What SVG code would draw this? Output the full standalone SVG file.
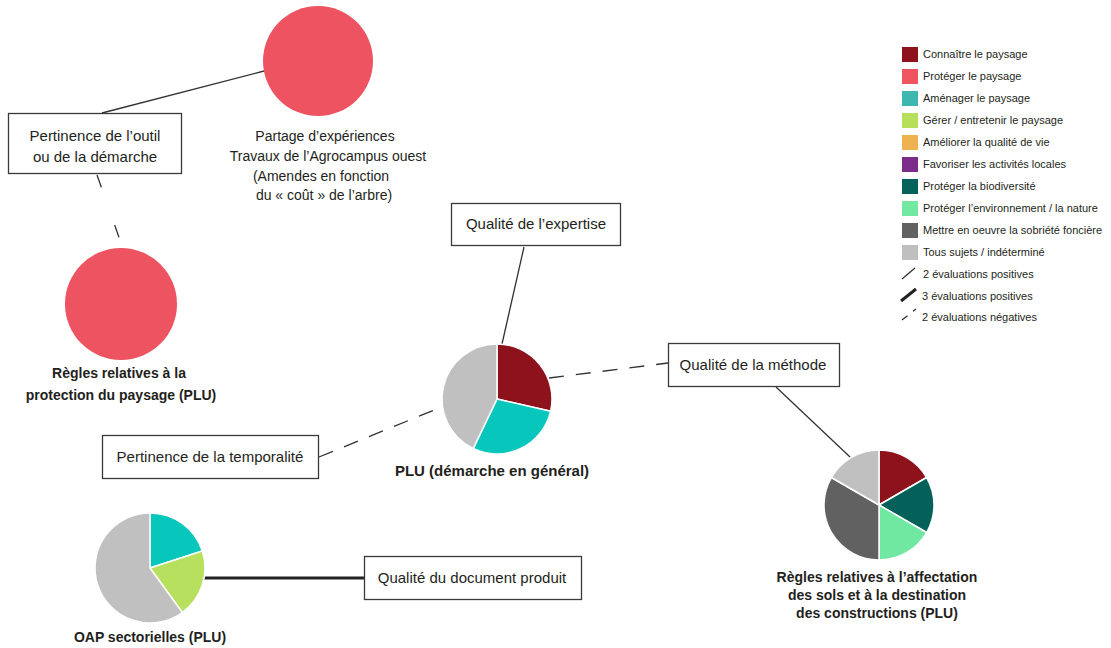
<svg xmlns="http://www.w3.org/2000/svg" width="1111" height="648" viewBox="0 0 1111 648">
<style>
text{font-family:"Liberation Sans",Arial,sans-serif;fill:#231f20}
.box rect{fill:#fff;stroke:#3a3a3a;stroke-width:1.3}
.bt{font-size:15px;text-anchor:middle}
.lb{font-size:14px;font-weight:bold;text-anchor:middle}
.ct{font-size:14px;text-anchor:middle}
.lg{font-size:11px}
.sl{stroke:#fff;stroke-width:1.5;stroke-linejoin:round}
.thin{stroke:#333;stroke-width:1.3;fill:none}
.thick{stroke:#222;stroke-width:3;fill:none}
.dash{stroke:#333;stroke-width:1.3;fill:none;stroke-dasharray:15 12}
</style>
<rect width="1111" height="648" fill="#fff"/>
<g id="connectors">
<line class="thin" x1="102" y1="113" x2="264" y2="71"/>
<line class="thin" x1="97" y1="175" x2="121" y2="243" style="stroke-dasharray:13 40"/>
<line class="thin" x1="524" y1="247" x2="502" y2="344"/>
<line class="dash" x1="549" y1="378" x2="668" y2="363"/>
<line class="thin" x1="776" y1="387" x2="850" y2="457"/>
<line class="dash" x1="319" y1="457" x2="444" y2="406"/>
<line class="thick" x1="204" y1="578" x2="364" y2="578"/>
</g>
<g id="node-partage">
<circle cx="318" cy="61" r="55" fill="#ee5361"/>
<text class="ct" x="325" y="141">Partage d’expériences</text>
<text class="ct" x="328" y="161">Travaux de l’Agrocampus ouest</text>
<text class="ct" x="321" y="181">(Amendes en fonction</text>
<text class="ct" x="324" y="200">du « coût » de l’arbre)</text>
</g>
<g id="node-regles-protection">
<circle cx="121" cy="304" r="56" fill="#ee5361"/>
<text class="lb" x="119" y="378">Règles relatives à la</text>
<text class="lb" x="121" y="400">protection du paysage (PLU)</text>
</g>
<g id="node-plu">
<path class="sl" fill="#8e121b" d="M497,399 L497,344 A55,55 0 0 1 550.62,411.24 Z"/>
<path class="sl" fill="#07c7bd" d="M497,399 L550.62,411.24 A55,55 0 0 1 473.14,448.55 Z"/>
<path class="sl" fill="#c0c0c0" d="M497,399 L473.14,448.55 A55,55 0 0 1 497,344 Z"/>
<text class="lb" x="492" y="476" style="font-size:15px">PLU (démarche en général)</text>
</g>
<g id="node-affectation">
<path class="sl" fill="#8e121b" d="M879,505 L879,450 A55,55 0 0 1 926.63,477.5 Z"/>
<path class="sl" fill="#04615a" d="M879,505 L926.63,477.5 A55,55 0 0 1 926.63,532.5 Z"/>
<path class="sl" fill="#70e8a1" d="M879,505 L926.63,532.5 A55,55 0 0 1 879,560 Z"/>
<path class="sl" fill="#616161" d="M879,505 L879,560 A55,55 0 0 1 831.37,477.5 Z"/>
<path class="sl" fill="#c0c0c0" d="M879,505 L831.37,477.5 A55,55 0 0 1 879,450 Z"/>
<text class="lb" x="877" y="582">Règles relatives à l’affectation</text>
<text class="lb" x="877" y="600">des sols et à la destination</text>
<text class="lb" x="877" y="618">des constructions (PLU)</text>
</g>
<g id="node-oap">
<path class="sl" fill="#07c7bd" d="M150,568 L150,513 A55,55 0 0 1 202.31,551 Z"/>
<path class="sl" fill="#b6e05d" d="M150,568 L202.31,551 A55,55 0 0 1 182.33,612.5 Z"/>
<path class="sl" fill="#c0c0c0" d="M150,568 L182.33,612.5 A55,55 0 1 1 150,513 Z"/>
<text class="lb" x="150" y="642">OAP sectorielles (PLU)</text>
</g>
<g id="box-pertinence-outil" class="box">
<rect x="8.5" y="113.5" width="173" height="60"/>
<text class="bt" x="95" y="141">Pertinence de l’outil</text>
<text class="bt" x="95" y="162">ou de la démarche</text>
</g>
<g id="box-expertise" class="box">
<rect x="451.5" y="203.5" width="169" height="42"/>
<text class="bt" x="536" y="229">Qualité de l’expertise</text>
</g>
<g id="box-methode" class="box">
<rect x="668.5" y="343.5" width="171" height="43"/>
<text class="bt" x="753" y="370">Qualité de la méthode</text>
</g>
<g id="box-temporalite" class="box">
<rect x="102.5" y="435.5" width="216" height="43"/>
<text class="bt" x="210" y="462">Pertinence de la temporalité</text>
</g>
<g id="box-document" class="box">
<rect x="364.5" y="556.5" width="217" height="43"/>
<text class="bt" x="472" y="583">Qualité du document produit</text>
</g>
<g id="legend">
<rect x="902" y="47" width="16" height="15" fill="#8e121b"/>
<rect x="902" y="69" width="16" height="15" fill="#ef5461"/>
<rect x="902" y="91" width="16" height="15" fill="#3db7b0"/>
<rect x="902" y="113" width="16" height="15" fill="#b6df5c"/>
<rect x="902" y="135" width="16" height="15" fill="#efb251"/>
<rect x="902" y="157" width="16" height="15" fill="#7b2c8b"/>
<rect x="902" y="179" width="16" height="15" fill="#04625a"/>
<rect x="902" y="201" width="16" height="15" fill="#72e8a0"/>
<rect x="902" y="223" width="16" height="15" fill="#626262"/>
<rect x="902" y="245" width="16" height="15" fill="#bfbfbf"/>
<line x1="902" y1="279" x2="915" y2="268" stroke="#333" stroke-width="1.3"/>
<line x1="901" y1="301" x2="916" y2="289" stroke="#222" stroke-width="3"/>
<line x1="902" y1="320" x2="916" y2="309" stroke="#333" stroke-width="1.3" stroke-dasharray="7 7"/>
<text class="lg" x="923" y="58">Connaître le paysage</text>
<text class="lg" x="923" y="80">Protéger le paysage</text>
<text class="lg" x="923" y="102">Aménager le paysage</text>
<text class="lg" x="923" y="124">Gérer / entretenir le paysage</text>
<text class="lg" x="923" y="146">Améliorer la qualité de vie</text>
<text class="lg" x="923" y="168">Favoriser les activités locales</text>
<text class="lg" x="923" y="190">Protéger la biodiversité</text>
<text class="lg" x="923" y="212">Protéger l’environnement / la nature</text>
<text class="lg" x="923" y="234">Mettre en oeuvre la sobriété foncière</text>
<text class="lg" x="923" y="256">Tous sujets / indéterminé</text>
<text class="lg" x="923" y="278">2 évaluations positives</text>
<text class="lg" x="922" y="300">3 évaluations positives</text>
<text class="lg" x="922" y="321">2 évaluations négatives</text>
</g>
</svg>
